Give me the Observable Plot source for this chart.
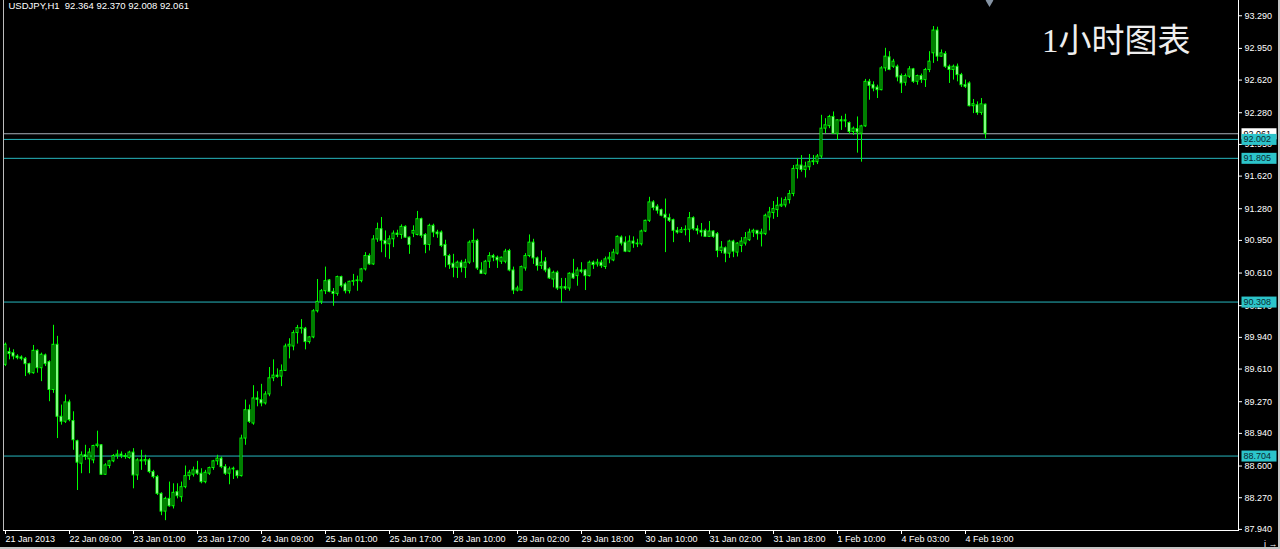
<!DOCTYPE html>
<html>
<head>
<meta charset="utf-8">
<script src="https://cdn.jsdelivr.net/npm/d3@7"></script>
<script src="https://cdn.jsdelivr.net/npm/@observablehq/plot@0.6"></script>
<style>
  html, body { margin: 0; padding: 0; background: #000; }
  #wrap { position: relative; width: 1280px; height: 549px; overflow: hidden; }
  #edge { position: absolute; left: 0; top: 0; width: 1280px; height: 549px; box-sizing: border-box;
          border-right: 2px solid #c4c4c4; border-bottom: 2px solid #c4c4c4; pointer-events: none; }
</style>
</head>
<body>
<div id="wrap"><div id="chart"></div><div id="edge"></div></div>
<script>
// ---- USDJPY H1 candles (21 Jan 2013 – 4 Feb 2013), one value per hourly bar ----
const open = [
89.654,89.787,89.776,89.741,89.731,89.717,89.661,89.567,89.800,89.619,
89.752,89.682,89.392,89.863,89.113,89.061,89.263,89.068,88.858,88.624,
88.712,88.670,88.659,88.809,88.816,88.509,88.600,88.649,88.705,88.719,
88.705,88.684,88.740,88.502,88.659,88.649,88.659,88.537,88.485,88.310,
88.125,88.258,88.181,88.328,88.275,88.380,88.495,88.510,88.555,88.520,
88.432,88.520,88.579,88.649,88.677,88.589,88.520,88.565,88.545,88.495,
88.886,89.182,89.043,89.304,89.287,89.252,89.346,89.514,89.542,89.531,
89.591,89.845,89.845,89.985,90.030,90.030,89.891,89.940,90.212,90.310,
90.421,90.533,90.414,90.393,90.568,90.491,90.421,90.519,90.526,90.526,
90.648,90.788,90.700,90.960,91.067,90.945,90.910,90.962,91.021,91.007,
91.091,90.979,91.021,91.007,91.171,91.007,90.903,91.102,91.032,91.032,
90.903,90.787,90.707,90.665,90.718,90.665,90.718,90.927,90.945,90.637,
90.602,90.728,90.787,90.770,90.728,90.728,90.840,90.637,90.428,90.428,
90.658,90.787,90.927,90.763,90.683,90.728,90.648,90.543,90.613,90.449,
90.463,90.449,90.603,90.578,90.637,90.637,90.578,90.718,90.700,90.718,
90.673,90.753,90.742,90.812,90.980,90.927,90.833,90.938,90.917,90.910,
91.043,91.154,91.346,91.301,91.266,91.217,91.182,91.161,91.050,91.032,
91.057,91.061,91.182,91.067,91.050,91.050,90.987,91.043,91.015,90.840,
90.868,90.812,90.938,90.823,90.892,90.917,90.952,91.032,91.050,91.015,
91.015,91.189,91.235,91.266,91.305,91.315,91.370,91.434,91.695,91.730,
91.684,91.712,91.765,91.765,91.824,92.114,92.140,92.236,92.061,92.201,
92.190,92.173,92.079,92.110,92.061,92.138,92.602,92.567,92.542,92.515,
92.742,92.857,92.759,92.759,92.662,92.592,92.655,92.732,92.602,92.662,
92.620,92.725,92.899,93.136,92.864,92.892,92.759,92.725,92.759,92.672,
92.567,92.585,92.348,92.358,92.278,92.364
];
const high = [
89.881,89.828,89.811,89.759,89.748,89.731,89.671,89.856,89.811,89.776,
89.766,89.696,90.066,89.951,89.235,89.340,89.287,89.165,88.869,88.747,
88.816,88.781,88.816,88.963,88.823,88.624,88.659,88.719,88.764,88.747,
88.729,88.754,88.781,88.677,88.764,88.712,88.677,88.555,88.502,88.321,
88.275,88.433,88.415,88.415,88.433,88.600,88.555,88.589,88.649,88.572,
88.555,88.589,88.659,88.712,88.694,88.614,88.589,88.589,88.555,88.921,
89.287,89.235,89.437,89.374,89.451,89.374,89.626,89.706,89.612,89.653,
89.870,89.926,90.009,90.065,90.125,90.044,89.950,90.229,90.543,90.439,
90.672,90.543,90.449,90.578,90.578,90.508,90.526,90.596,90.578,90.658,
90.823,90.810,91.000,91.130,91.189,91.049,90.997,91.049,91.056,91.112,
91.102,90.986,91.102,91.252,91.182,91.021,91.119,91.119,91.056,91.049,
90.952,90.805,90.805,90.735,90.742,90.753,90.945,91.067,90.962,90.718,
90.742,90.822,90.805,90.787,90.777,90.857,90.857,90.672,90.473,90.683,
90.812,91.007,90.962,90.777,90.840,90.770,90.665,90.630,90.630,90.554,
90.554,90.613,90.753,90.665,90.718,90.648,90.735,90.735,90.753,90.742,
90.777,90.823,90.857,90.997,90.997,90.987,90.997,90.987,90.962,91.057,
91.161,91.399,91.364,91.322,91.276,91.381,91.224,91.172,91.085,91.085,
91.102,91.241,91.196,91.102,91.126,91.067,91.147,91.050,91.032,90.938,
90.882,90.952,90.952,90.927,90.980,91.032,91.067,91.067,91.050,91.067,
91.224,91.294,91.355,91.398,91.391,91.400,91.470,91.730,91.800,91.834,
91.765,91.845,91.835,91.845,92.253,92.218,92.253,92.288,92.208,92.243,
92.264,92.184,92.131,92.236,92.149,92.627,92.627,92.602,92.567,92.760,
92.951,92.916,92.836,92.777,92.683,92.683,92.760,92.742,92.672,92.683,
92.742,92.916,93.178,93.171,92.934,92.916,92.777,92.777,92.787,92.690,
92.620,92.602,92.418,92.393,92.428,92.370
];
const low = [
89.636,89.706,89.706,89.706,89.696,89.532,89.549,89.556,89.567,89.479,
89.636,89.270,89.357,88.886,89.026,89.043,89.061,88.764,88.345,88.520,
88.659,88.520,88.624,88.788,88.502,88.502,88.572,88.635,88.670,88.677,
88.670,88.670,88.363,88.450,88.555,88.607,88.520,88.467,88.293,88.083,
88.031,88.171,88.153,88.258,88.223,88.363,88.450,88.485,88.502,88.415,
88.415,88.502,88.555,88.607,88.572,88.502,88.405,88.460,88.467,88.485,
88.816,89.043,89.025,89.217,89.217,89.235,89.322,89.479,89.514,89.427,
89.584,89.716,89.800,89.870,89.975,89.810,89.870,89.926,90.194,90.282,
90.386,90.404,90.264,90.369,90.456,90.393,90.393,90.474,90.421,90.508,
90.631,90.690,90.690,90.930,90.822,90.770,90.753,90.875,90.979,90.962,
90.972,90.805,90.979,90.997,90.972,90.812,90.840,90.979,90.972,90.875,
90.665,90.648,90.561,90.554,90.613,90.554,90.700,90.718,90.637,90.595,
90.588,90.658,90.728,90.658,90.700,90.707,90.623,90.386,90.414,90.421,
90.630,90.770,90.700,90.630,90.648,90.613,90.543,90.456,90.428,90.299,
90.428,90.421,90.543,90.473,90.603,90.428,90.568,90.648,90.672,90.659,
90.648,90.707,90.728,90.798,90.892,90.823,90.823,90.868,90.875,90.892,
91.032,91.137,91.259,91.224,91.196,90.823,91.137,90.927,91.015,91.022,
90.997,90.927,91.050,91.008,90.987,90.980,90.980,90.973,90.770,90.812,
90.718,90.763,90.770,90.777,90.823,90.892,90.938,90.980,90.952,90.882,
91.000,91.050,91.170,91.189,91.293,91.290,91.329,91.405,91.590,91.660,
91.600,91.677,91.730,91.740,91.800,92.061,92.114,92.061,91.992,92.096,
92.124,92.054,92.044,91.859,91.765,92.128,92.410,92.498,92.428,92.508,
92.707,92.718,92.742,92.602,92.480,92.557,92.637,92.585,92.567,92.585,
92.543,92.697,92.794,92.812,92.857,92.742,92.585,92.620,92.602,92.543,
92.532,92.341,92.271,92.253,92.253,92.008
];
const close = [
89.863,89.766,89.741,89.724,89.717,89.661,89.567,89.800,89.619,89.759,
89.661,89.392,89.863,89.113,89.061,89.263,89.078,88.869,88.635,88.712,
88.694,88.740,88.809,88.823,88.509,88.607,88.649,88.705,88.719,88.705,
88.694,88.740,88.502,88.659,88.649,88.663,88.537,88.485,88.310,88.125,
88.258,88.181,88.321,88.286,88.380,88.495,88.530,88.555,88.520,88.432,
88.530,88.579,88.649,88.677,88.589,88.520,88.565,88.572,88.495,88.886,
89.182,89.060,89.304,89.290,89.252,89.346,89.514,89.542,89.528,89.591,
89.845,89.863,89.985,90.037,90.037,89.891,89.940,90.212,90.310,90.421,
90.526,90.414,90.393,90.568,90.474,90.421,90.519,90.526,90.533,90.648,
90.788,90.700,90.960,91.067,90.945,90.910,90.962,91.021,91.007,91.091,
90.979,90.903,91.049,91.171,90.997,90.903,91.102,91.032,91.014,90.892,
90.787,90.693,90.665,90.718,90.665,90.718,90.927,90.945,90.658,90.602,
90.728,90.787,90.770,90.742,90.770,90.833,90.637,90.428,90.449,90.672,
90.787,90.927,90.763,90.683,90.718,90.637,90.554,90.613,90.449,90.463,
90.449,90.603,90.554,90.637,90.623,90.578,90.718,90.693,90.718,90.683,
90.753,90.770,90.823,90.987,90.917,90.833,90.938,90.917,90.910,91.043,
91.154,91.346,91.287,91.259,91.207,91.182,91.154,91.050,91.032,91.057,
91.061,91.182,91.067,91.050,91.032,90.987,91.043,90.987,90.840,90.875,
90.812,90.938,90.833,90.917,90.938,90.973,91.032,91.050,91.015,91.032,
91.207,91.241,91.276,91.311,91.321,91.370,91.433,91.695,91.730,91.684,
91.719,91.765,91.775,91.824,92.114,92.149,92.236,92.061,92.201,92.190,
92.201,92.079,92.114,92.075,92.138,92.602,92.560,92.532,92.515,92.742,
92.864,92.725,92.812,92.648,92.585,92.662,92.732,92.602,92.662,92.620,
92.725,92.812,93.136,92.864,92.899,92.759,92.725,92.759,92.672,92.567,
92.550,92.348,92.369,92.278,92.368,92.061
];

// ---- axis ticks ----
const xTickIdx = [0,16,32,48,64,80,96,112,128,144,160,176,192,208,224,240];
const xTickLabels = ["21 Jan 2013","22 Jan 09:00","23 Jan 01:00","23 Jan 17:00","24 Jan 09:00",
  "25 Jan 01:00","25 Jan 17:00","28 Jan 10:00","29 Jan 02:00","29 Jan 18:00","30 Jan 10:00",
  "31 Jan 02:00","31 Jan 18:00","1 Feb 10:00","4 Feb 03:00","4 Feb 19:00"];
const yTicks = [93.29,92.95,92.62,92.28,91.95,91.62,91.28,90.95,90.61,90.27,89.94,89.61,89.27,88.94,88.60,88.27,87.94];

// ---- horizontal levels ----
const levels = [92.002, 91.805, 90.308, 88.704];
const bid = 92.061;
const titleText = "USDJPY,H1  92.364 92.370 92.008 92.061";
const watermark = "1小时图表";

// ---- build ----
const bars = open.map((o, i) => ({i, o, h: high[i], l: low[i], c: close[i]}));
const lastIndex = bars.length - 1;

const labelDx = 5;
function boxed(bg) {
  return function(index, scales, values, dims, context, next) {
    const g = next(index, scales, values, dims, context);
    // the group is shifted by labelDx, so compensate to start the box 3px right of the axis line
    const x0 = dims.width - dims.marginRight + 3 - labelDx;
    for (const i of index) {
      const r = document.createElementNS("http://www.w3.org/2000/svg", "rect");
      r.setAttribute("x", x0);
      r.setAttribute("y", values.y[i] - 5.5);
      r.setAttribute("width", 35);
      r.setAttribute("height", 11);
      r.setAttribute("fill", bg);
      g.insertBefore(r, g.firstChild);
    }
    return g;
  };
}

const lime = "#00ff00";
const cyan = "#27b6be";

const chart = Plot.plot({
  width: 1280,
  height: 549,
  marginTop: 0,
  marginBottom: 19,
  marginLeft: 3,
  marginRight: 42,
  style: {background: "#000", color: "#fff", fontFamily: "'Liberation Sans', Arial, sans-serif", fontSize: "9px", overflow: "visible"},
  x: {domain: [-0.5, 308.25], axis: null},
  y: {domain: [87.9285, 93.449], axis: null},
  marks: [
    Plot.ruleY(levels, {stroke: cyan}),
    Plot.ruleY([bid], {stroke: "#a9b1ba"}),
    Plot.ruleX(bars, {x: "i", y1: "l", y2: "h", stroke: lime}),
    Plot.rect(bars, {
      x1: d => d.i - 0.25, x2: d => d.i + 0.25,
      y1: "o", y2: "c",
      fill: d => d.c >= d.o ? "#000000" : "#ffffff",
      stroke: lime
    }),
    Plot.frame({anchor: "left", stroke: "#bdbdbd"}),
    Plot.frame({anchor: "right", stroke: "#fff"}),
    Plot.frame({anchor: "bottom", stroke: "#fff"}),
    Plot.axisY({anchor: "right", ticks: yTicks, tickFormat: d3.format(".3f"), tickSize: 3, tickPadding: 3, fontSize: 9, stroke: "#fff", fill: "#fff"}),
    Plot.axisX({anchor: "bottom", ticks: xTickIdx, tickFormat: d => xTickLabels[xTickIdx.indexOf(d)],
      tickSize: 4, tickPadding: 1, textAnchor: "start", fontSize: 9, stroke: "#fff", fill: "#fff"}),
    Plot.text([bid], {y: d => d, text: d => d.toFixed(3), frameAnchor: "right", textAnchor: "start", dx: labelDx,
      fill: "#000", fontSize: 9, render: boxed("#ffffff")}),
    Plot.text(levels, {y: d => d, text: d => d.toFixed(3), frameAnchor: "right", textAnchor: "start", dx: labelDx,
      fill: "#0b2a30", fontSize: 9, render: boxed("#2cc4ca")}),
    Plot.text([titleText], {frameAnchor: "top-left", textAnchor: "start", lineAnchor: "top", dx: 5, dy: 2,
      fontSize: 9.5, fill: "#fff"}),
    Plot.text([watermark], {frameAnchor: "top-right", textAnchor: "end", lineAnchor: "top", dx: -48, dy: 28,
      fontSize: 33, fill: "#eeeeee", fontFamily: "'Liberation Serif', 'DejaVu Serif', 'Noto Sans CJK SC', serif"}),
    Plot.dot([lastIndex], {x: d => d, frameAnchor: "top", symbol: "diamond", r: 4, fill: "#8593a3", stroke: null, dx: 4})
  ]
});
document.getElementById("chart").appendChild(chart);
</script>
</body>
</html>
